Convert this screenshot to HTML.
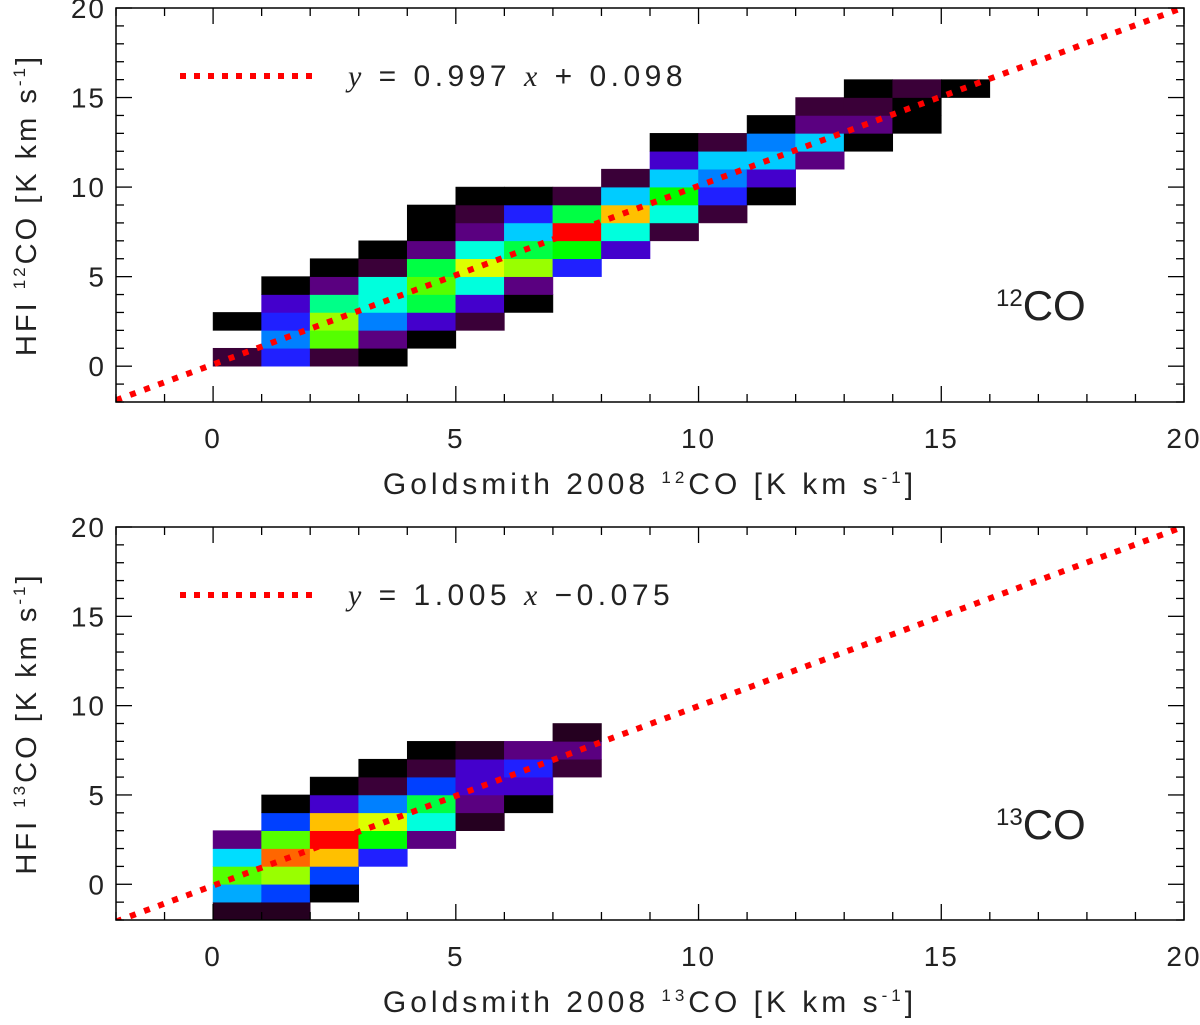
<!DOCTYPE html>
<html><head><meta charset="utf-8"><style>
body{margin:0;background:#fff;}
svg text{font-family:"Liberation Sans",sans-serif;fill:#222;font-weight:normal;}
</style></head><body>
<svg id="chart" width="1200" height="1020" xmlns="http://www.w3.org/2000/svg"></svg>
<script>
// ---- data ----
const xTicks = [0, 5, 10, 15, 20];
const yTicks = [0, 5, 10, 15, 20];
const fitTop = [0.997, 0.098];
const fitBot = [1.005, -0.075];
const C = {k:'#000000',dp:'#3a0038',dd:'#250020',p:'#5a0080',i:'#4400cc',b:'#2020ff',b2:'#0040ff',a:'#0080ff',lb:'#00ccff',c:'#00ffdd',sg:'#00ff88',g:'#00ff44',g0:'#00ff00',lg:'#55ff00',yg:'#99ff00',y:'#ddff00',o:'#ffc000',or:'#ff6600',r:'#ff0000',cy:'#00ddff',az:'#00aaff'};
// top heatmap (grouped by column): x-bin start, y-bin start, colour key
const topBinX = [
 0,0,
 1,1,1,1,1,
 2,2,2,2,2,2,
 3,3,3,3,3,3,3,
 4,4,4,4,4,4,4,4,
 5,5,5,5,5,5,5,5,
 6,6,6,6,6,6,6,
 7,7,7,7,7,
 8,8,8,8,8,
 9,9,9,9,9,9,
 10,10,10,10,10,
 11,11,11,11,11,
 12,12,12,12,
 13,13,13,13,
 14,14,14,
 15];
const topBinY = [
 0,2,
 0,1,2,3,4,
 0,1,2,3,4,5,
 0,1,2,3,4,5,6,
 1,2,3,4,5,6,7,8,
 2,3,4,5,6,7,8,9,
 3,4,5,6,7,8,9,
 5,6,7,8,9,
 6,7,8,9,10,
 7,8,9,10,11,12,
 8,9,10,11,12,
 9,10,11,12,13,
 11,12,13,14,
 12,13,14,15,
 13,14,15,
 15];
const topBinC = [
 'dp','k',
 'b','a','b','i','k',
 'dp','lg','yg','sg','p','k',
 'k','p','a','c','c','dp','k',
 'k','i','g','lg','g','p','k','k',
 'dp','i','c','y','c','p','dp','k',
 'k','p','yg','g','lb','b','k',
 'b','g0','r','g','dp',
 'i','c','o','lb','dp',
 'dp','c','g0','lb','i','k',
 'dp','b','a','lb','dp',
 'k','i','lb','a','k',
 'p','lb','p','dp',
 'k','p','dp','k',
 'k','k','dp',
 'k'];
// bottom heatmap
const botBinX = [0,0,0,0,0, 1,1,1,1,1,1,1, 2,2,2,2,2,2,2, 3,3,3,3,3,3, 4,4,4,4,4,4, 5,5,5,5,5, 6,6,6,6, 7,7,7];
const botBinY = [-2,-1,0,1,2, -2,-1,0,1,2,3,4, -1,0,1,2,3,4,5, 1,2,3,4,5,6, 2,3,4,5,6,7, 3,4,5,6,7, 4,5,6,7, 6,7,8];
const botBinC = ['dd','az','lg','cy','p', 'dd','b2','yg','or','lg','b2','k', 'k','b2','o','r','o','i','k', 'b','g0','y','a','dp','k', 'p','c','g','b2','dp','k', 'dd','p','i','i','dd', 'k','i','b','p', 'dp','p','dd'];

const svg = document.getElementById('chart');
const NS = 'http://www.w3.org/2000/svg';
function mk(tag, attrs, parent){const e=document.createElementNS(NS,tag);for(const k in attrs)e.setAttribute(k,attrs[k]);(parent||svg).appendChild(e);return e;}

const L=116,R=1184,XMIN=-2,XMAX=20;
const sx = v => L + (v - XMIN) * (R - L) / (XMAX - XMIN);

function panel(top, bottom, bx, by, bc, fit, iso, fitText, tag){
  const sy = v => bottom - (v + 2) * (bottom - top) / 22;
  const g = mk('g', {});
  
  
  const clip = mk('clipPath', {id:'clip'+tag}, g);
  mk('rect', {x:L, y:top, width:R-L, height:bottom-top}, clip);
  const hm = mk('g', {'clip-path':'url(#clip'+tag+')'}, g);
  
  
  for (let i = 0; i < bx.length; i++) {
    const r = mk('rect', {x:sx(bx[i]), y:sy(by[i]+1), width:sx(bx[i]+1)-sx(bx[i]), height:sy(by[i])-sy(by[i]+1), fill:C[bc[i]], stroke:C[bc[i]], 'stroke-width':0.6}, hm);
    
    
  }
  const fl = mk('line', {x1:sx(-2), y1:sy(fit[0]*-2+fit[1]), x2:sx(20), y2:sy(fit[0]*20+fit[1]), stroke:'#ff0000', 'stroke-width':6, 'stroke-dasharray':'6 9'}, hm);
  
  
  const box = mk('rect', {x:L, y:top, width:R-L, height:bottom-top, fill:'none', stroke:'#000', 'stroke-width':1.5}, g);
  
  
  for (let v = -2; v <= 20; v++) {
    const len = v % 5 === 0 ? 16 : 8;
    mk('line', {x1:sx(v), y1:bottom, x2:sx(v), y2:bottom-len, stroke:'#000', 'stroke-width':1.3}, g);
    mk('line', {x1:sx(v), y1:top, x2:sx(v), y2:top+len, stroke:'#000', 'stroke-width':1.3}, g);
    mk('line', {x1:L, y1:sy(v), x2:L+len, y2:sy(v), stroke:'#000', 'stroke-width':1.3}, g);
    mk('line', {x1:R, y1:sy(v), x2:R-len, y2:sy(v), stroke:'#000', 'stroke-width':1.3}, g);
  }
  xTicks.forEach(v => {
    const t = mk('text', {x:sx(v), y:bottom+46, 'font-size':28, 'text-anchor':'middle', 'letter-spacing':2}, g);
    t.textContent = v;
    
    
  });
  yTicks.forEach(v => {
    const t = mk('text', {x:106, y:sy(v)+10, 'font-size':28, 'text-anchor':'end', 'letter-spacing':2}, g);
    t.textContent = v;
    
    
  });
  const xl = mk('text', {x:650, y:bottom+92, 'font-size':30, 'text-anchor':'middle', 'letter-spacing':4}, g);
  xl.innerHTML = 'Goldsmith 2008 <tspan dy="-11" font-size="17">'+iso+'</tspan><tspan dy="11">CO [K km s</tspan><tspan dy="-11" font-size="17">-1</tspan><tspan dy="11">]</tspan>';
  
  
  const yl = mk('text', {x:0, y:0, 'font-size':29, 'text-anchor':'middle', 'letter-spacing':3, transform:'translate(36,'+((top+bottom)/2)+') rotate(-90)'}, g);
  yl.innerHTML = 'HFI <tspan dy="-11" font-size="17">'+iso+'</tspan><tspan dy="11">CO [K km s</tspan><tspan dy="-11" font-size="17">-1</tspan><tspan dy="11">]</tspan>';
  
  
  const ll = mk('line', {x1:180, y1:top+68, x2:320, y2:top+68, stroke:'#ff0000', 'stroke-width':6, 'stroke-dasharray':'6 8'}, g);
  
  
  const lt = mk('text', {x:348, y:top+78, 'font-size':30, 'letter-spacing':4.5}, g);
  lt.innerHTML = fitText;
  
  
  const an = mk('text', {x:996, y:top+312, 'font-size':42}, g);
  an.innerHTML = '<tspan dy="-14" font-size="24">'+iso+'</tspan><tspan dy="14">CO</tspan>';
  
  
}
panel(8, 402, topBinX, topBinY, topBinC, fitTop, '12', '<tspan font-style="italic" font-family="Liberation Serif">y</tspan> = 0.997 <tspan font-style="italic" font-family="Liberation Serif">x</tspan> + 0.098', 'top');
panel(527, 920, botBinX, botBinY, botBinC, fitBot, '13', '<tspan font-style="italic" font-family="Liberation Serif">y</tspan> = 1.005 <tspan font-style="italic" font-family="Liberation Serif">x</tspan> −0.075', 'bottom');
</script>
</body></html>
